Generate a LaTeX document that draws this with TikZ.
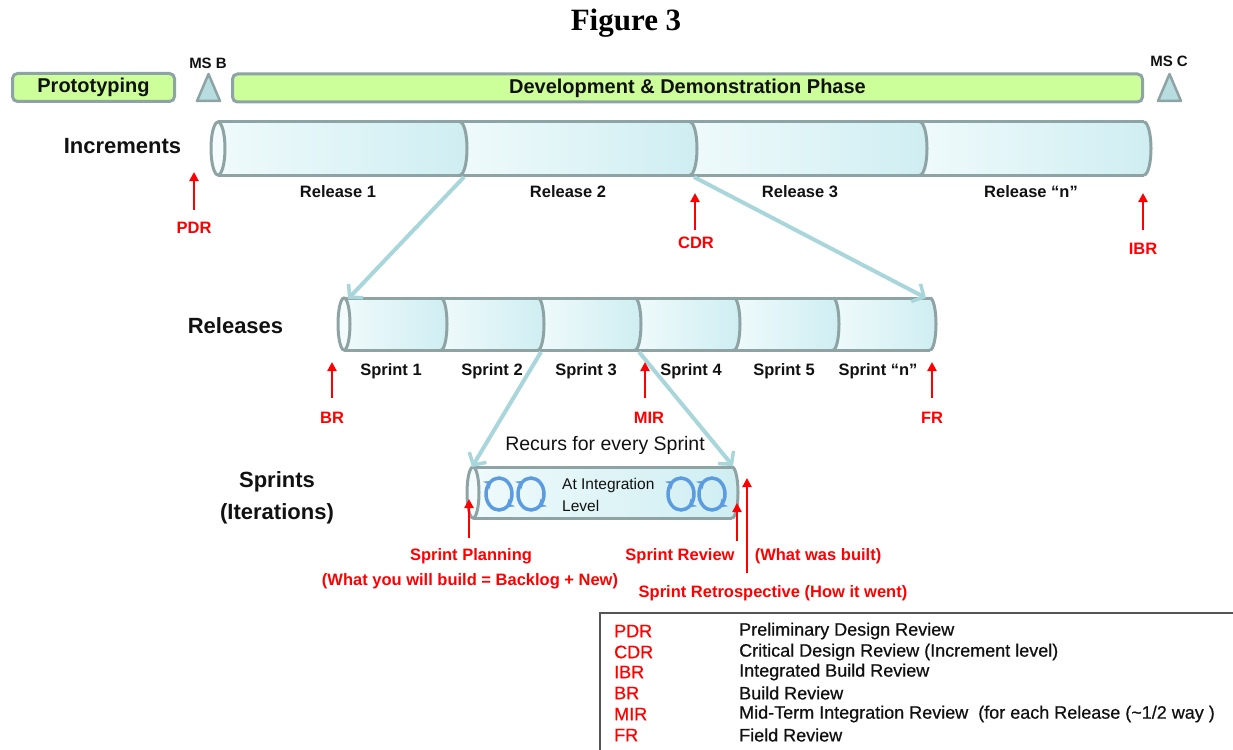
\documentclass[tikz,border=0pt]{standalone}
\usepackage{fontspec}
\setmainfont{Liberation Sans}
\newfontfamily\serifbf{Liberation Serif}
\newfontfamily\legfont[FakeBold=0.6]{Liberation Sans}
\usetikzlibrary{arrows.meta}
\definecolor{barG}{HTML}{CCFF99}
\definecolor{edgeG}{HTML}{8EA3A3}
\definecolor{triF}{HTML}{B8DDE0}
\definecolor{cylL}{HTML}{EFFAFB}
\definecolor{cylR}{HTML}{CFEEF2}
\definecolor{cylE}{HTML}{F4FBFC}
\definecolor{flowC}{HTML}{A9D6DA}
\definecolor{loopC}{HTML}{5B9BE0}
\definecolor{redC}{HTML}{FF0000}
\definecolor{txtC}{HTML}{111111}
\definecolor{legC}{HTML}{555555}

\tikzset{
 bar/.style={draw=edgeG, line width=3pt, fill=barG, rounded corners=5pt, inner sep=0pt,
   font=\fontsize{20}{24}\selectfont\bfseries, text=txtC},
 ms/.style={draw=edgeG, line width=2.5pt, fill=triF, line join=round},
 cylline/.style={draw=edgeG, line width=3pt},
 flow/.style={draw=flowC, line width=4pt, -{Straight Barb[length=9pt,width=20pt,line width=3.5pt]}},
 redarrow/.style={draw=redC, line width=2.2pt, -{Triangle[length=9pt,width=9pt]}},
 lvl/.style={font=\fontsize{22}{26}\selectfont\bfseries, text=txtC, inner sep=0pt},
 rel/.style={font=\fontsize{16.5}{19}\selectfont\bfseries, text=txtC, inner sep=0pt},
 mslbl/.style={font=\fontsize{15}{18}\selectfont\bfseries, text=txtC, inner sep=0pt},
 redlbl/.style={text=redC, font=\fontsize{16.5}{19}\selectfont\bfseries, inner sep=0pt},
 legab/.style={anchor=west, text=redC, font=\legfont\fontsize{18}{20}\selectfont, inner sep=0pt},
 legtx/.style={anchor=west, text=txtC, font=\legfont\fontsize{18}{20}\selectfont, inner sep=0pt},
 loopring/.style={draw=loopC, line width=3.5pt},
 looptip/.style={draw=loopC, line width=2pt, -{Stealth[length=7pt,width=10pt]}},
}

% #1 x of left end centre, #2 top, #3 bottom, #4 end radius, #5 segment ends, #6 right end
\newcommand{\mycyl}[6]{%
 \pgfmathsetmacro\cyM{(#2+#3)/2}%
 \pgfmathsetmacro\cyR{(#3-#2)/2}%
 \foreach \dx [remember=\dx as \lastx (initially #1)] in {#5} {
   \shade[left color=cylL,right color=cylR] (\lastx,#2) -- (\dx,#2)
     arc[start angle=-90,end angle=90,x radius=#4,y radius=\cyR] -- (\lastx,#3)
     arc[start angle=90,end angle=-90,x radius=#4,y radius=\cyR] -- cycle;
 }
 \fill[cylE] (#1,\cyM) ellipse[x radius=#4, y radius=\cyR];
 \foreach \dx in {#5} {
   \draw[cylline] (\dx,#2) arc[start angle=-90,end angle=90,x radius=#4,y radius=\cyR];
 }
 \draw[cylline] (#1,#2) -- (#6,#2) (#1,#3) -- (#6,#3);
 \draw[cylline] (#1,\cyM) ellipse[x radius=#4, y radius=\cyR];
}

\begin{document}
\begin{tikzpicture}[x=1pt,y=-1pt]
\useasboundingbox (0,0) rectangle (1233,749);

% title
\node[font=\serifbf\fontsize{31}{36}\selectfont\bfseries, inner sep=0pt] (title) at (626,23) {Figure 3};

% phase bars
\node[bar, minimum width=162pt, minimum height=28pt] (proto) at (93.5,87.5) {Prototyping};
\node[bar, minimum width=910pt, minimum height=28pt] (dev) at (687.5,88) {Development \& Demonstration Phase};
\draw[ms] (197,101) -- (208.5,74) -- (220,101) -- cycle;
\node[mslbl] (msb) at (208,63) {MS B};
\draw[ms] (1158,101) -- (1169.5,74) -- (1181,101) -- cycle;
\node[mslbl] (msc) at (1169,61) {MS C};

% level labels
\node[lvl] (incr) at (122.5,146) {Increments};
\node[lvl] (rels) at (235.5,326) {Releases};
\node[lvl] (spr1) at (277,482) {Sprints};
\node[lvl] (spr2) at (277,514) {(Iterations)};

% cylinders
\mycyl{218}{122}{175}{7}{460,690,920,1144}{1144}
\mycyl{344}{298}{350}{6}{441,538,635,734,833,930}{930}
\mycyl{473}{467}{518}{6}{732}{732}

% release labels
\node[rel] (r1) at (338,192) {Release 1};
\node[rel] (r2) at (568,192) {Release 2};
\node[rel] (r3) at (800,192) {Release 3};
\node[rel] (rn) at (1031,192) {Release “n”};

% sprint labels
\node[rel] (s1) at (391,371) {Sprint 1};
\node[rel] (s2) at (492,371) {Sprint 2};
\node[rel] (s3) at (586,371) {Sprint 3};
\node[rel] (s4) at (691,371) {Sprint 4};
\node[rel] (s5) at (784,371) {Sprint 5};
\node[rel] (sn) at (878,371) {Sprint “n”};

% flow connectors
\coordinate (d12) at (464,177);
\coordinate (d23) at (694,177);
\coordinate (relTL) at (348,299);
\coordinate (relTR) at (926,298);
\coordinate (d23s) at (541,352);
\coordinate (d34s) at (639,352);
\coordinate (sprTL) at (472,467);
\coordinate (sprTR) at (733,466);
\draw[flow] (d12) -- (relTL);
\draw[flow] (d23) -- (relTR);
\draw[flow] (d23s) -- (sprTL);
\draw[flow] (d34s) -- (sprTR);

\node[font=\fontsize{19.5}{22}\selectfont, text=txtC, inner sep=0pt] (recur) at (605,445) {Recurs for every Sprint};

% sprint cylinder content
\node[anchor=west, font=\fontsize{15.5}{18}\selectfont, text=txtC, inner sep=0pt] (atint) at (562,485) {At Integration};
\node[anchor=west, font=\fontsize{15.5}{18}\selectfont, text=txtC, inner sep=0pt] (atlev) at (562,506) {Level};
\foreach \cx in {499,531,681,712} {
  \draw[loopring] (\cx,494) ellipse[x radius=13, y radius=16];
  \draw[looptip] (\cx,494) ++(190:13 and 16) arc[start angle=190,end angle=235,x radius=13,y radius=16];
  \draw[looptip] (\cx,494) ++(10:13 and 16) arc[start angle=10,end angle=55,x radius=13,y radius=16];
}

% red review markers
\node[redlbl] (pdr) at (194,228) {PDR};
\coordinate (pdrT) at (194,172);
\draw[redarrow] (194,210) -- (pdrT);
\node[redlbl] (cdr) at (696,243) {CDR};
\coordinate (cdrT) at (695,193);
\draw[redarrow] (695,230) -- (cdrT);
\node[redlbl] (ibr) at (1143,249) {IBR};
\coordinate (ibrT) at (1143,193);
\draw[redarrow] (1143,230) -- (ibrT);
\node[redlbl] (br) at (332,418) {BR};
\coordinate (brT) at (332,362);
\draw[redarrow] (332,398) -- (brT);
\node[redlbl] (mir) at (649,418) {MIR};
\coordinate (mirT) at (645,362);
\draw[redarrow] (645,398) -- (mirT);
\node[redlbl] (fr) at (932,418) {FR};
\coordinate (frT) at (932,362);
\draw[redarrow] (932,398) -- (frT);

\node[redlbl] (spl) at (471,556) {Sprint Planning};
\node[redlbl] (spl2) at (470,581) {(What you will build = Backlog + New)};
\coordinate (splT) at (469,499);
\draw[redarrow] (469,538) -- (splT);
\node[redlbl] (srv) at (680,556) {Sprint Review};
\node[redlbl] (srv2) at (818,556) {(What was built)};
\coordinate (srvT) at (737,503);
\draw[redarrow] (737,541) -- (srvT);
\node[redlbl] (sre) at (773,593) {Sprint Retrospective (How it went)};
\coordinate (sreT) at (747,478);
\draw[redarrow] (747,573) -- (sreT);

% legend
\draw[legC, line width=1.5pt] (600,750) -- (600,613) -- (1234,613);
\node[legab] (la1) at (614,631) {PDR};
\node[legab] (la2) at (614,652) {CDR};
\node[legab] (la3) at (614,672) {IBR};
\node[legab] (la4) at (614,693) {BR};
\node[legab] (la5) at (614,714) {MIR};
\node[legab] (la6) at (614,735) {FR};
\node[legtx] (lt1) at (739,631) {Preliminary Design Review};
\node[legtx] (lt2) at (739,652) {Critical Design Review (Increment level)};
\node[legtx] (lt3) at (739,672) {Integrated Build Review};
\node[legtx] (lt4) at (739,693) {Build Review};
\node[legtx] (lt5) at (739,714) {Mid-Term Integration Review\ \ (for each Release (\textasciitilde1/2 way )};
\node[legtx] (lt6) at (739,735) {Field Review};
\end{tikzpicture}
\end{document}
